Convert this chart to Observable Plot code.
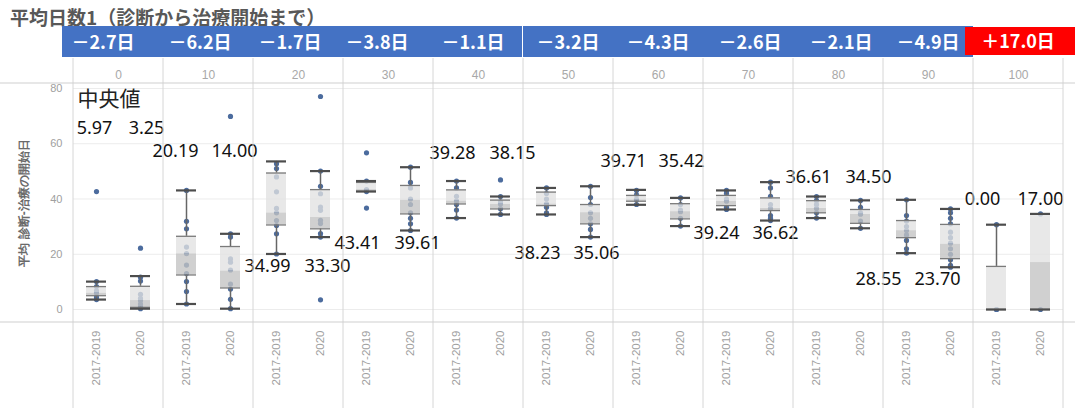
<!DOCTYPE html>
<html><head><meta charset="utf-8">
<script src="https://cdn.jsdelivr.net/npm/d3@7"></script>
<script src="https://cdn.jsdelivr.net/npm/@observablehq/plot@0.6"></script>
<style>
body{margin:0;background:#fff;}
#wrap{position:relative;width:1075px;height:408px;overflow:hidden;background:#fff}
#wrap svg{position:absolute;left:0;top:0}
#title{position:absolute;left:10px;top:4px;font-family:"Noto Sans CJK JP",sans-serif;font-size:19px;line-height:26px;font-weight:bold;color:#585858;white-space:nowrap}
.bg{position:absolute}
.blab{position:absolute;top:26px;height:31px;line-height:31px;color:#fff;font-family:"Noto Sans CJK JP",sans-serif;font-weight:bold;font-size:18px;text-align:center;white-space:nowrap}
</style></head>
<body><div id="wrap"></div>
<script>
// ---- data ----
const panels = [0, 10, 20, 30, 40, 50, 60, 70, 80, 90, 100];
const groups = ["2017-2019", "2020"];
const diffLabels = ["－2.7日", "－6.2日", "－1.7日", "－3.8日", "－1.1日", "－3.2日", "－4.3日", "－2.6日", "－2.1日", "－4.9日", "＋17.0日"];
const yTicks = [0, 20, 40, 60, 80];

// 2017-2019 box statistics
const lo17  = [3.6, 2.0, 20.1, 42.7, 33.1, 34.4, 37.9, 36.2, 33.1, 20.4, 0];
const q1_17 = [5.0, 12.5, 30.6, 42.8, 38.2, 37.6, 39.2, 37.6, 35.0, 26.0, 0];
const med17 = [5.97, 20.19, 34.99, 43.41, 39.28, 38.23, 39.71, 39.24, 36.61, 28.55, 0.00];
const q3_17 = [8.3, 26.5, 49.4, 46.0, 43.3, 42.5, 41.3, 41.3, 39.4, 32.2, 15.6];
const hi17  = [10.1, 43.1, 53.6, 46.5, 46.5, 44.0, 43.3, 43.1, 40.9, 39.7, 30.7];
// 2020 box statistics
const lo20  = [0.3, 0.3, 26.2, 28.6, 34.4, 26.2, 30.2, 32.2, 29.4, 15.3, 0];
const q1_20 = [0.8, 7.8, 29.2, 34.6, 36.4, 31.0, 32.8, 35.8, 31.2, 18.4, 0];
const med20 = [3.25, 14.00, 33.30, 39.61, 38.15, 35.06, 35.42, 36.62, 34.50, 23.70, 17.00];
const q3_20 = [8.4, 22.8, 43.4, 44.9, 39.6, 38.0, 38.3, 40.4, 36.2, 30.8, 34.6];
const hi20  = [12.1, 27.4, 50.1, 51.5, 40.9, 44.6, 40.4, 46.1, 39.5, 36.4, 34.6];

// individual points (estimated)
const pts17 = [
  [42.7, 10.1, 8.3, 6.8, 6.0, 4.5, 3.6],
  [43.1, 31.9, 29.2, 22.6, 20.2, 16.1, 13.0, 10.1, 6.5, 2.0],
  [52.8, 51.0, 48.0, 42.6, 36.6, 35.0, 32.2, 30.4, 27.4, 20.1],
  [56.7, 46.5, 43.4, 42.7, 36.7],
  [46.5, 44.0, 41.0, 39.3, 38.0, 36.0, 33.1],
  [44.0, 42.0, 40.0, 38.2, 37.0, 35.0, 34.4],
  [43.1, 41.5, 40.0, 39.7, 38.0],
  [43.1, 42.0, 40.0, 39.2, 37.0, 36.2],
  [40.9, 39.4, 38.0, 36.6, 35.0, 33.1],
  [39.7, 34.0, 32.0, 30.0, 28.6, 27.0, 25.0, 22.0, 20.4],
  [30.7, 0, 0]
];
const pts20 = [
  [22.2, 11.7, 10.3, 5.5, 4.0, 3.25, 2.0, 1.0, 0.3],
  [69.9, 27.4, 26.2, 18.3, 17.1, 14.3, 9.2, 7.4, 3.7, 0.3],
  [77.1, 50.1, 44.6, 41.9, 37.1, 35.9, 32.3, 31.1, 27.5, 26.2, 3.5],
  [51.5, 46.0, 44.0, 40.0, 38.0, 35.0, 33.0, 31.0, 28.6],
  [46.9, 40.9, 39.0, 38.2, 36.5, 34.4],
  [44.6, 40.5, 38.0, 35.0, 33.0, 31.0, 29.0, 26.2],
  [40.4, 38.0, 36.0, 35.4, 33.0, 30.2],
  [46.1, 44.0, 41.0, 38.0, 36.6, 34.0, 33.0, 32.2],
  [39.5, 37.0, 35.0, 34.5, 32.0, 29.4],
  [36.4, 35.0, 33.0, 31.0, 28.0, 26.0, 24.0, 22.0, 20.0, 18.0, 16.0, 15.3],
  [34.6, 0]
];

// ---- layout (label placement) ----
const labelY   = [65.5, 57.2, 15.6, 23.9, 56.5, 20.3, 53.6, 27.5, 47.8, 10.9, 39.8];
const labelDx17 = [-2, -11, -9, -9, -4, -9, -13, -10, -8, -28, -14];
const labelDx20 = [6, 4, 7, 7, 12, 6, 1, 5, 8, -13, 0];
const bannerDx = [-15, -8, -8, -11, -5, 0, 0, 2, 3, 0, 0];

// ---- build tables ----
const rows = [];
const points = [];
panels.forEach((p, i) => {
  rows.push({panel: p, group: groups[0], lo: lo17[i], q1: q1_17[i], med: med17[i], q3: q3_17[i], hi: hi17[i], ly: labelY[i], ldx: labelDx17[i]});
  rows.push({panel: p, group: groups[1], lo: lo20[i], q1: q1_20[i], med: med20[i], q3: q3_20[i], hi: hi20[i], ly: labelY[i], ldx: labelDx20[i]});
  pts17[i].forEach(v => points.push({panel: p, group: groups[0], v}));
  pts20[i].forEach(v => points.push({panel: p, group: groups[1], v}));
});

const F = "'Liberation Sans', Arial, sans-serif";
const fmt = d3.format(".2f");

const chart = Plot.plot({
  width: 1075, height: 408,
  marginLeft: 69, marginRight: 9, marginTop: 83, marginBottom: 86,
  style: {fontFamily: F, background: "transparent", overflow: "visible"},
  fx: {domain: panels, padding: 0},
  x: {domain: groups, paddingInner: 0.55, paddingOuter: 0.28},
  y: {domain: [-4.7, 81.8]},
  marks: [
    Plot.gridY(yTicks, {stroke: "#ececec", strokeOpacity: 1}),
    Plot.axisY(yTicks, {tickSize: 0, tickPadding: 11, fontSize: 11, fill: "#a0a0a0", label: null}),
    Plot.axisY([], {tickSize: 0, label: "平均 診断-治療の開始日", labelAnchor: "center", labelOffset: 54,
      labelArrow: "none", fontSize: 12, fontWeight: "bold", fill: "#6a6a6a"}),
    Plot.axisFx({anchor: "top", tickSize: 0, tickPadding: 5, fontSize: 12, fill: "#a8a8a8", label: null}),
    Plot.axisX({anchor: "bottom", tickRotate: -90, tickSize: 0, tickPadding: 8, fontSize: 11.5, fill: "#a0a0a0", label: null}),
    Plot.dot(points, {fx: "panel", x: "group", y: "v", r: 2.6, fill: "#4c6c9e", stroke: "none"}),
    Plot.barY(rows, {fx: "panel", x: "group", y1: "q1", y2: "med", fill: "#c3c3c3", fillOpacity: 0.78}),
    Plot.barY(rows, {fx: "panel", x: "group", y1: "med", y2: "q3", fill: "#e2e2e2", fillOpacity: 0.78}),
    Plot.ruleX(rows, {fx: "panel", x: "group", y1: "q3", y2: "hi", stroke: "#666", strokeWidth: 1.5}),
    Plot.ruleX(rows, {fx: "panel", x: "group", y1: "lo", y2: "q1", stroke: "#666", strokeWidth: 1.5}),
    Plot.tickY(rows, {fx: "panel", x: "group", y: "q1", stroke: "#7a7a7a", strokeWidth: 1.3}),
    Plot.tickY(rows, {fx: "panel", x: "group", y: "q3", stroke: "#7a7a7a", strokeWidth: 1.3}),
    Plot.tickY(rows, {fx: "panel", x: "group", y: "hi", stroke: "#4d4d4d", strokeWidth: 2.2}),
    Plot.tickY(rows, {fx: "panel", x: "group", y: "lo", stroke: "#4d4d4d", strokeWidth: 2.2}),
    ...rows.map(r => Plot.text([r], {fx: "panel", x: "group", y: "ly", text: d => fmt(d.med), dx: r.ldx,
      fontSize: 18, fontFamily: "'Noto Sans', sans-serif", fill: "#111"})),
    Plot.text([{panel: 0, label: "中央値"}], {fx: "panel", text: "label", frameAnchor: "top-left", textAnchor: "start",
      lineAnchor: "top", dx: 4, dy: 8, fontSize: 21, fontFamily: "'Noto Sans CJK JP', sans-serif", fill: "#222"})
  ]
});

const wrap = document.getElementById("wrap");
wrap.appendChild(chart);

// panel borders & header lines from Plot's scales
const fx = chart.scale("fx");
const ys = chart.scale("y");
const bw = fx.bandwidth;
const yTop = ys.apply(ys.domain[1]);
const yBot = ys.apply(ys.domain[0]);
const g = d3.select(chart).append("g").attr("stroke", "#d6d6d6").attr("stroke-width", 1);
const xs = panels.map(p => fx.apply(p)).concat([fx.apply(panels[panels.length - 1]) + bw]);
xs.forEach(x => g.append("line").attr("x1", x).attr("x2", x).attr("y1", 58).attr("y2", 408));
[yTop, yBot].forEach(y => g.append("line").attr("x1", 0).attr("x2", 1075).attr("y1", y).attr("y2", y).attr("stroke", "#cfcfcf"));

// title
const title = document.createElement("div");
title.id = "title";
title.textContent = "平均日数1（診断から治療開始まで）";
wrap.appendChild(title);

// banner
const last = panels[panels.length - 1];
const blue = document.createElement("div");
blue.className = "bg";
Object.assign(blue.style, {left: (fx.apply(0) - 11) + "px", width: (fx.apply(last) - fx.apply(0) + 11) + "px", top: "26px", height: "31px", background: "#4472C4"});
wrap.appendChild(blue);
const sep = document.createElement("div");
sep.className = "bg";
Object.assign(sep.style, {left: (fx.apply(50) - 1) + "px", width: "1px", top: "26px", height: "31px", background: "#fff"});
wrap.appendChild(sep);
const red = document.createElement("div");
red.className = "bg";
Object.assign(red.style, {left: (fx.apply(last) - 8) + "px", width: (1075 - fx.apply(last) + 8) + "px", top: "27px", height: "28px", background: "#FF0000"});
wrap.appendChild(red);
panels.forEach((p, i) => {
  const d = document.createElement("div");
  d.className = "blab";
  Object.assign(d.style, {left: (fx.apply(p) + bannerDx[i]) + "px", width: bw + "px"});
  if (p === last) { d.style.top = "26px"; d.style.height = "29px"; d.style.lineHeight = "29px"; }
  d.textContent = diffLabels[i];
  wrap.appendChild(d);
});
</script>
</body></html>
